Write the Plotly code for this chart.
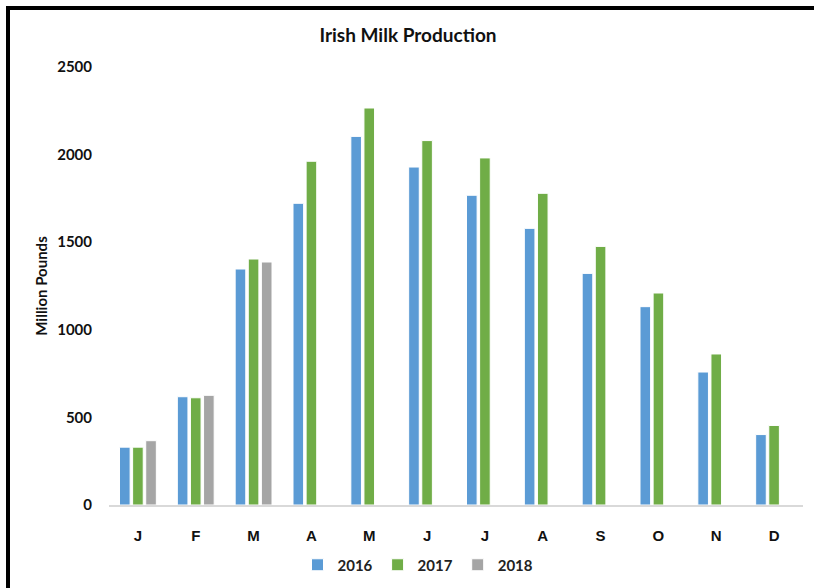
import plotly.graph_objects as go

months = ["J", "F", "M", "A", "M", "J", "J", "A", "S", "O", "N", "D"]
y2016 = [330, 618, 1347, 1722, 2104, 1929, 1768, 1579, 1322, 1132, 759, 402]
y2017 = [330, 612, 1404, 1962, 2266, 2080, 1981, 1779, 1476, 1210, 862, 454]
y2018 = [367, 626, 1387, None, None, None, None, None, None, None, None, None]
series = [("2016", y2016, "#5B9BD5"), ("2017", y2017, "#70AD47"), ("2018", y2018, "#A5A5A5")]

W, H = 814, 588
ml, mr, mt, mb = 109, 11, 67, 83
pw, ph = W - ml - mr, H - mt - mb

xs = list(range(len(months)))
fig = go.Figure()
for name, vals, col in series:
    fig.add_trace(go.Bar(x=xs, y=vals, name=f"<b>{name}</b>",
                         marker=dict(color=col, line=dict(color="white", width=1))))

def px_x(p):
    return (p - ml) / pw

def px_y(p):
    return (H - mb - p) / ph

fig.update_layout(
    width=W, height=H,
    margin=dict(l=ml, r=mr, t=mt, b=mb, autoexpand=False),
    paper_bgcolor="white", plot_bgcolor="white",
    barmode="group", bargap=0.32, bargroupgap=0.19,
    title=dict(text="<b>Irish Milk Production</b>", x=408 / W, xref="container", xanchor="center",
               y=1 - 35 / H, yref="container", yanchor="middle",
               font=dict(family="Lato", size=19, color="#111")),
    legend=dict(orientation="h", xref="container", x=418 / W, xanchor="center",
                yref="container", y=1 - 565 / H, yanchor="middle",
                font=dict(family="Lato", size=15, color="#222"), traceorder="normal",
                itemwidth=30, tracegroupgap=0),
    xaxis=dict(tickvals=xs, ticktext=[f"<b>{m}</b>" for m in months], range=[-0.5, 11.5],
               showline=True, linecolor="#D9D9D9", linewidth=1.5, ticks="", showgrid=False,
               automargin=False,
               tickfont=dict(family="Liberation Sans", size=15, color="#111"), ticklabelstandoff=16),
    yaxis=dict(range=[0, 2500], tickvals=[0, 500, 1000, 1500, 2000, 2500],
               ticktext=[f"<b>{v}</b>" for v in [0, 500, 1000, 1500, 2000, 2500]],
               showgrid=False, zeroline=False, showline=False, ticks="", automargin=False,
               tickfont=dict(family="Lato", size=15, color="#111"), ticklabelstandoff=16,
               title=dict(text="<b>Million Pounds</b>", font=dict(family="Lato", size=15, color="#111"), standoff=5)),
    shapes=[
        dict(type="line", xref="paper", yref="paper", x0=px_x(6), x1=px_x(W + 5), y0=px_y(8), y1=px_y(8),
             line=dict(color="black", width=4)),
        dict(type="line", xref="paper", yref="paper", x0=px_x(8), x1=px_x(8), y0=px_y(6), y1=px_y(H + 5),
             line=dict(color="black", width=4)),
    ],
)

fig.write_html("out.html", config={"displayModeBar": False},
               post_script="document.body.style.margin='0px';document.body.style.overflow='hidden';")
